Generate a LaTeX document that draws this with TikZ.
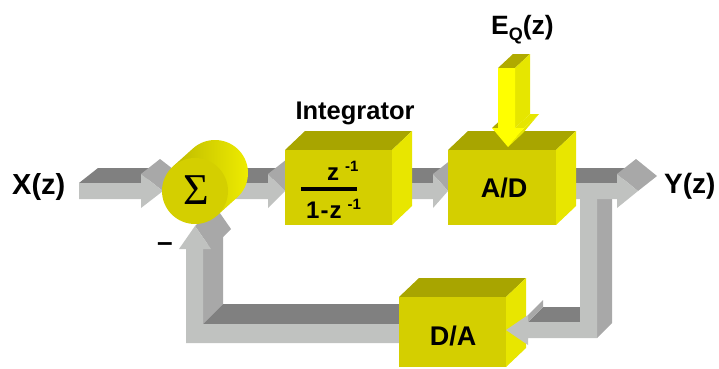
\documentclass[tikz,border=0pt]{standalone}
\usepackage{fontspec}
\setmainfont{Liberation Sans}
\newfontfamily\sigmafont{Liberation Serif}

\definecolor{boxfront}{RGB}{212,207,0}
\definecolor{boxtop}{RGB}{168,165,0}
\definecolor{boxside}{RGB}{232,230,0}
\definecolor{arrfront}{RGB}{192,194,192}
\definecolor{arrtop}{RGB}{128,128,128}
\definecolor{arrside}{RGB}{168,168,168}
\definecolor{cyldark}{RGB}{190,186,0}
\definecolor{cyllight}{RGB}{240,238,0}
\definecolor{eqfront}{RGB}{255,255,0}
\definecolor{eqside}{RGB}{230,230,0}
\definecolor{eqtop}{RGB}{176,170,0}

\newcommand{\flatarrow}[3]{%
	\fill[arrtop] (#1,183) -- ++(19,-15) -- ++({#2-#1},0) -- (#2,183) -- cycle;
	\fill[arrside] (#2,174) -- (#3,191) -- ++(19,-15) -- ++({#2-#3},-17) -- cycle;
	\fill[arrfront] (#1,183) -- (#2,183) -- (#2,174) -- (#3,191) -- (#2,208) -- (#2,199) -- (#1,199) -- cycle;
}
\newcommand{\blockbox}[4]{%
	\fill[boxtop] (#1,#2) -- ++(20,-19) -- ++({#3-#1},0) -- (#3,#2) -- cycle;
	\fill[boxside] (#3,#2) -- ++(20,-19) -- ++(0,{#4-#2}) -- (#3,#4) -- cycle;
	\fill[boxfront] (#1,#2) rectangle (#3,#4);
}

\begin{document}
\begin{tikzpicture}[x=1pt,y=-1pt,
	lbl/.style={inner sep=0pt,font=\bfseries\fontsize{#1}{#1}\selectfont}]
	\useasboundingbox (0,0) rectangle (719,368);

	\fill[arrside] (195,226) -- (211,249) -- (231,229) -- (215,206) -- cycle;
	\fill[arrside] (203,249) -- (223,229) -- (223,304) -- (203,324) -- cycle;
	\fill[arrtop] (203,324) -- (223,304) -- (419,304) -- (399,324) -- cycle;
	\fill[arrfront] (399,324) -- (203,324) -- (203,249) -- (211,249) -- (195,226) -- (179,249) -- (186,249) -- (186,343) -- (399,343) -- cycle;

	\flatarrow{79}{141}{163}
	\flatarrow{225}{268}{285}

	\shade[left color=cyldark,right color=cyllight] (217.1,215.5) -- (237.1,197.5) arc[start angle=48,end angle=-132,radius=33] -- (172.9,166.5) -- cycle;
	\fill[boxfront] (195,191) circle (33);

	\flatarrow{392}{433}{448}
	\blockbox{285}{150}{392}{225}
	\blockbox{399}{297}{506}{367}

	\fill[arrside] (597,183) -- (612,168) -- (612,323) -- (597,338) -- cycle;
	\fill[arrtop] (528,322) -- (543,307) -- (595,307) -- (580,322) -- cycle;
	\fill[arrside] (528,315) -- (543,300) -- (543,307) -- (528,322) -- cycle;
	\fill[arrfront] (580,183) -- (597,183) -- (597,338) -- (528,338) -- (528,345) -- (506,330) -- (528,315) -- (528,322) -- (580,322) -- cycle;

	\flatarrow{556}{617}{638}
	\blockbox{448}{150}{556}{225}

	\fill[eqtop] (492,128) -- (507,114) -- (513,114) -- (498,128) -- cycle;
	\fill[eqtop] (498,68) -- (513,54) -- (530,54) -- (515,68) -- cycle;
	\fill[eqside] (515,68) -- (530,54) -- (530,114) -- (515,128) -- cycle;
	\fill[eqside] (515,128) -- (530,114) -- (539,114) -- (524,128) -- cycle;
	\fill[eqside] (524,128) -- (508,147) -- (523,133) -- (539,114) -- cycle;
	\fill[eqfront] (498,68) -- (515,68) -- (515,128) -- (524,128) -- (508,147) -- (492,128) -- (498,128) -- cycle;

	\node[lbl=29,anchor=base west] (xin) at (12,194) {X(z)};
	\node[lbl=28,anchor=base west] (yout) at (664,193) {Y(z)};
	\node[lbl=25.5,anchor=base] (integ) at (355,119) {Integrator};
	\node[lbl=27] (ad) at (504,188) {A/D};
	\node[lbl=27] (da) at (453,336) {D/A};
	\node[lbl=26.5,anchor=base west] (eq) at (491,34) {E\raisebox{-6pt}{\fontsize{18}{18}\selectfont Q}(z)};
	\node[lbl=28,anchor=base] (minus) at (165,251) {–};
	\node[inner sep=0pt,font=\sigmafont\fontsize{44}{44}\selectfont] (sigma) at (196,190) {Σ};
	\node[lbl=24,anchor=base west] (num) at (327,180) {z\hspace{6pt}\raisebox{9pt}{\fontsize{15}{15}\selectfont -1}};
	\draw[line width=3.5pt] (301,189) -- (357,189);
	\node[lbl=24,anchor=base west] (den) at (306,218) {1\kern1pt-\kern1pt z\hspace{6pt}\raisebox{9pt}{\fontsize{15}{15}\selectfont -1}};
\end{tikzpicture}
\end{document}
